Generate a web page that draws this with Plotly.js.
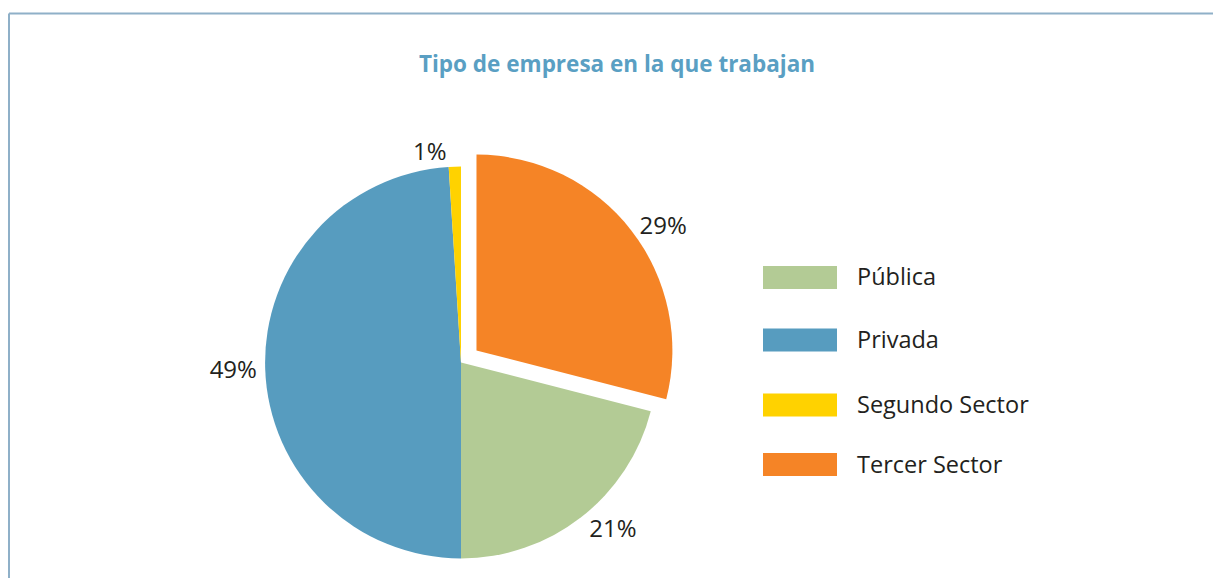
<!DOCTYPE html>
<html>
<head>
<meta charset="utf-8">
<script src="https://cdn.plot.ly/plotly-3.0.1.min.js"></script>
<style>html,body{margin:0;padding:0;background:#fff;}#chart{width:1213px;height:578px;}</style>
</head>
<body>
<div id="chart"></div>
<script>
var labels = ["Pública", "Privada", "Segundo Sector", "Tercer Sector"];
var values = [21, 49, 1, 29];
var colors = ["#b3cb95", "#579cbf", "#ffd200", "#f58426"];
var pulls = [0, 0, 0, 0.1];

var W = 1213, H = 578;
function px(x){ return x / W; }
function py(y){ return 1 - y / H; }

var trace = {
  type: "pie",
  labels: labels,
  values: values,
  sort: false,
  direction: "clockwise",
  rotation: 104.4,
  pull: pulls,
  marker: {colors: colors, line: {width: 0}},
  texttemplate: "%{value}%",
  textposition: "outside",
  textfont: {family: "Open Sans", size: 24, color: "#231f20"},
  outsidetextfont: {family: "Open Sans", size: 24, color: "#231f20"},
  hoverinfo: "none",
  showlegend: false,
  automargin: false,
  domain: {x: [px(245), px(677)], y: [py(578), py(147)]}
};

var shapes = [
  {type: "line", xref: "paper", yref: "paper", x0: px(9), x1: px(1213), y0: py(13.5), y1: py(13.5), line: {color: "#8fb0c8", width: 2}},
  {type: "line", xref: "paper", yref: "paper", x0: px(9), x1: px(9), y0: py(13.5), y1: py(578), line: {color: "#8fb0c8", width: 2}}
];
var annotations = [];
var legY = [277.5, 340, 405, 464.5];
for (var i = 0; i < labels.length; i++) {
  shapes.push({type: "rect", xref: "paper", yref: "paper", x0: px(763), x1: px(837), y0: py(legY[i] - 11.5), y1: py(legY[i] + 11.5), fillcolor: colors[i], line: {width: 0}});
  annotations.push({xref: "paper", yref: "paper", x: px(855), y: py(legY[i] - 1), xanchor: "left", yanchor: "middle", showarrow: false, text: labels[i], font: {family: "Open Sans", size: 23.5, color: "#231f20"}});
}

var layout = {
  width: W, height: H,
  margin: {l: 0, r: 0, t: 0, b: 0},
  paper_bgcolor: "#ffffff",
  title: {text: "<b>Tipo de empresa en la que trabajan</b>", x: px(617), xanchor: "center", xref: "paper", y: py(64), yref: "container", yanchor: "middle", font: {family: "Open Sans", size: 22.5, color: "#5a9fc3"}},
  shapes: shapes,
  annotations: annotations
};

Plotly.newPlot("chart", [trace], layout, {displayModeBar: false, staticPlot: true});
</script>
</body>
</html>
